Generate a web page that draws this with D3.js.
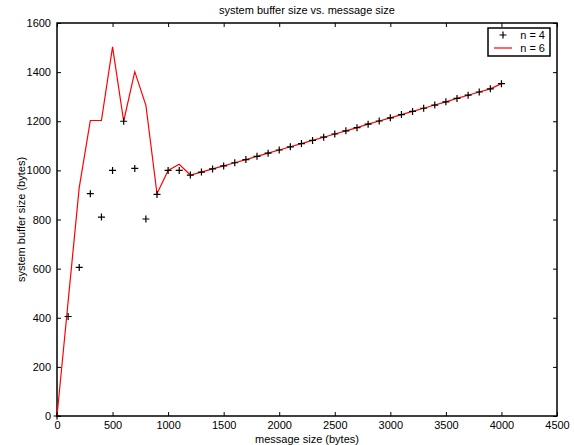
<!DOCTYPE html>
<html>
<head>
<meta charset="utf-8">
<script src="https://cdn.jsdelivr.net/npm/d3@7"></script>
<style>
  body { margin: 0; background: #fff; }
  svg text { font-family: "Liberation Sans", Arial, sans-serif; fill: #000; }
</style>
</head>
<body>
<div id="chart"></div>
<script>
// message sizes (bytes)
const msgSizes = [0, 100, 200, 300, 400, 500, 600, 700, 800, 900, 1000, 1100,
  1200, 1300, 1400, 1500, 1600, 1700, 1800, 1900, 2000, 2100, 2200, 2300, 2400,
  2500, 2600, 2700, 2800, 2900, 3000, 3100, 3200, 3300, 3400, 3500, 3600, 3700,
  3800, 3900, 4000];
// n = 4 (black + markers)
const bufN4 = [0, 405, 605, 905, 810, 1000, 1200, 1008, 802, 902, 1000, 1000,
  981, 993, 1006, 1018, 1031, 1044, 1057, 1070, 1083, 1096, 1109, 1122, 1135,
  1148, 1161, 1174, 1188, 1201, 1214, 1227, 1240, 1253, 1266, 1279, 1293, 1306,
  1319, 1332, 1353];
// n = 6 (red line)
const bufN6 = [0, 465, 930, 1203, 1203, 1503, 1200, 1402, 1265, 905, 1000, 1025,
  981, 993, 1006, 1018, 1031, 1044, 1057, 1070, 1083, 1096, 1109, 1122, 1135,
  1148, 1161, 1174, 1188, 1201, 1214, 1227, 1240, 1253, 1266, 1279, 1293, 1306,
  1319, 1332, 1353];
const xTicks = [0, 500, 1000, 1500, 2000, 2500, 3000, 3500, 4000, 4500];
const yTicks = [0, 200, 400, 600, 800, 1000, 1200, 1400, 1600];

const width = 574, height = 445;
const margin = { top: 23, right: 17, bottom: 29, left: 57 };
const innerW = width - margin.left - margin.right;
const innerH = height - margin.top - margin.bottom;

const svg = d3.select('#chart').append('svg')
  .attr('width', width)
  .attr('height', height);

const g = svg.append('g').attr('transform', `translate(${margin.left},${margin.top})`);

const x = d3.scaleLinear().domain([0, 4500]).range([0, innerW]);
const y = d3.scaleLinear().domain([0, 1600]).range([innerH, 0]);

// axes with inward ticks on all four sides
const fmt = d3.format('d');
g.append('g').attr('transform', `translate(0,${innerH})`)
  .call(d3.axisBottom(x).tickValues(xTicks).tickFormat(fmt).tickSizeInner(-4).tickSizeOuter(0).tickPadding(5));
g.append('g')
  .call(d3.axisTop(x).tickValues(xTicks).tickFormat('').tickSizeInner(-4).tickSizeOuter(0));
g.append('g')
  .call(d3.axisLeft(y).tickValues(yTicks).tickFormat(fmt).tickSizeInner(-4).tickSizeOuter(0).tickPadding(6));
g.append('g').attr('transform', `translate(${innerW},0)`)
  .call(d3.axisRight(y).tickValues(yTicks).tickFormat('').tickSizeInner(-4).tickSizeOuter(0));

g.selectAll('.domain').remove();
g.selectAll('.tick line').attr('stroke', '#000');
g.selectAll('.tick text').style('font-size', '11px');

g.append('rect')
  .attr('width', innerW).attr('height', innerH)
  .attr('fill', 'none').attr('stroke', '#000').attr('stroke-width', 1.5);

// red line, n = 6
const line = d3.line().x((d, i) => x(msgSizes[i])).y(d => y(d));
g.append('path')
  .datum(bufN6)
  .attr('d', line)
  .attr('fill', 'none')
  .attr('stroke', '#ff0000')
  .attr('stroke-width', 1.2);

// plus markers, n = 4
const plus = 'M-3.5,0H3.5M0,-3.5V3.5';
g.selectAll('.pt')
  .data(bufN4)
  .enter().append('path')
  .attr('class', 'pt')
  .attr('transform', (d, i) => `translate(${x(msgSizes[i])},${y(d)})`)
  .attr('d', plus)
  .attr('stroke', '#000')
  .attr('stroke-width', 1.2);

// titles
svg.append('text')
  .attr('x', margin.left + innerW / 2).attr('y', 14)
  .attr('text-anchor', 'middle').style('font-size', '11px')
  .text('system buffer size vs. message size');
svg.append('text')
  .attr('x', margin.left + innerW / 2).attr('y', 443)
  .attr('text-anchor', 'middle').style('font-size', '11px')
  .text('message size (bytes)');
svg.append('text')
  .attr('transform', `translate(25,${margin.top + innerH / 2}) rotate(-90)`)
  .attr('text-anchor', 'middle').style('font-size', '11px')
  .text('system buffer size (bytes)');

// legend
const lg = svg.append('g').attr('transform', 'translate(488,28)');
lg.append('rect').attr('width', 62).attr('height', 28)
  .attr('fill', '#fff').attr('stroke', '#000').attr('stroke-width', 1.5);
lg.append('path').attr('d', plus).attr('transform', 'translate(15,7)')
  .attr('stroke', '#000').attr('stroke-width', 1.2);
lg.append('line').attr('x1', 6).attr('x2', 24).attr('y1', 20).attr('y2', 20)
  .attr('stroke', '#ff0000').attr('stroke-width', 1.2);
lg.append('text').attr('x', 57).attr('y', 11).attr('text-anchor', 'end')
  .style('font-size', '11px').text('n = 4');
lg.append('text').attr('x', 57).attr('y', 24).attr('text-anchor', 'end')
  .style('font-size', '11px').text('n = 6');
</script>
</body>
</html>
